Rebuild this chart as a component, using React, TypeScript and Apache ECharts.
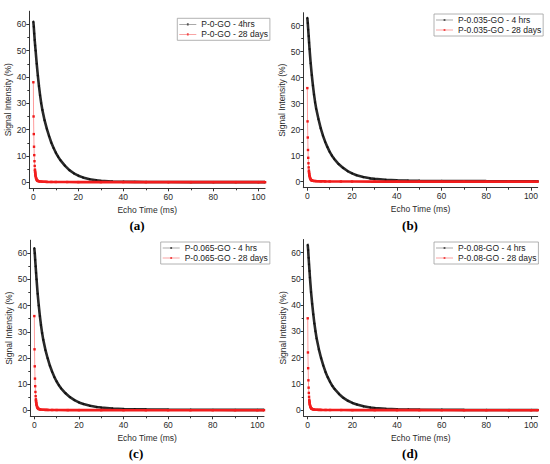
import React, { useEffect, useRef } from "react";
import * as echarts from "echarts";

// Echo times (ms) at which values were read
const T_BLACK = [0, 0.2, 0.4, 0.6, 0.8, 1, 1.5, 2, 2.5, 3, 3.5, 4, 5, 6, 7, 8, 9, 10, 11, 12, 14, 16, 18, 20, 22, 25, 28, 30, 35, 40, 45, 50, 60, 70, 80, 90, 100, 103];
const BLACK_A = [61, 59, 56.5, 54, 52, 50, 45, 40.5, 36.5, 33, 30, 27.5, 23.5, 20.3, 17.5, 15, 13, 11.2, 9.7, 8.4, 6.3, 4.6, 3.4, 2.5, 1.85, 1.15, 0.75, 0.55, 0.3, 0.2, 0.15, 0.1, 0.08, 0.06, 0.05, 0.05, 0.04, 0.04];
const BLACK_B = [63, 61, 58.5, 56, 53.5, 51, 45.5, 41, 37, 33.5, 30.5, 28, 24, 20.5, 17.7, 15.3, 13.3, 11.5, 10, 8.8, 6.8, 5.3, 4.1, 3.2, 2.5, 1.8, 1.3, 1.1, 0.75, 0.55, 0.45, 0.38, 0.3, 0.25, 0.22, 0.2, 0.18, 0.18];
const BLACK_C = [62, 60, 57.5, 55, 52.5, 50, 44.5, 40, 36, 32.5, 29.5, 27, 23, 19.8, 17, 14.7, 12.7, 11, 9.6, 8.4, 6.5, 5, 3.9, 3, 2.4, 1.7, 1.25, 1.05, 0.7, 0.5, 0.4, 0.33, 0.25, 0.2, 0.18, 0.16, 0.15, 0.15];
const BLACK_D = [63, 61, 58, 55.5, 53, 50.5, 45, 40.5, 36.5, 33, 30, 27.3, 23.2, 19.8, 17, 14.5, 12.5, 10.8, 9.3, 8.1, 6.2, 4.7, 3.6, 2.8, 2.2, 1.5, 1.05, 0.85, 0.55, 0.4, 0.3, 0.25, 0.2, 0.15, 0.12, 0.1, 0.1, 0.1];

const T_RED = [0, 0.1, 0.2, 0.3, 0.4, 0.5, 0.6, 0.7, 0.8, 0.9, 1, 1.2, 1.4, 1.6, 1.8, 2, 2.5, 3, 4, 5, 6, 8, 10, 15, 20, 30, 40, 50, 60, 70, 80, 90, 100, 103];
const RED_A = [38, 25, 18.3, 13.5, 10.3, 8, 6.2, 4.8, 3.8, 3, 2.4, 1.6, 1.1, 0.8, 0.6, 0.5, 0.35, 0.28, 0.22, 0.18, 0.15, 0.12, 0.1, 0.08, 0.06, 0.05, 0.05, 0.04, 0.04, 0.04, 0.03, 0.03, 0.03, 0.03];
const RED_B = [36, 23.2, 17, 12.2, 9.2, 7.1, 5.5, 4.3, 3.4, 2.7, 2.2, 1.5, 1.05, 0.8, 0.6, 0.5, 0.35, 0.28, 0.22, 0.18, 0.15, 0.12, 0.1, 0.08, 0.06, 0.05, 0.05, 0.04, 0.04, 0.04, 0.03, 0.03, 0.03, 0.03];
const RED_C = [36, 23.3, 16.8, 12.1, 9.2, 7, 5.4, 4.2, 3.3, 2.6, 2.1, 1.45, 1.0, 0.75, 0.58, 0.48, 0.34, 0.27, 0.21, 0.17, 0.14, 0.11, 0.09, 0.07, 0.06, 0.05, 0.04, 0.04, 0.04, 0.03, 0.03, 0.03, 0.03, 0.03];
const RED_D = [35, 22, 16, 11.4, 8.6, 6.6, 5.1, 4, 3.1, 2.5, 2, 1.35, 0.95, 0.7, 0.55, 0.45, 0.32, 0.25, 0.2, 0.16, 0.14, 0.11, 0.09, 0.07, 0.05, 0.05, 0.04, 0.04, 0.03, 0.03, 0.03, 0.03, 0.03, 0.03];

const NAMES_4H = ["P-0-GO - 4hrs", "P-0.035-GO - 4 hrs", "P-0.065-GO - 4 hrs", "P-0.08-GO - 4 hrs"];
const NAMES_28D = ["P-0-GO - 28 days", "P-0.035-GO - 28 days", "P-0.065-GO - 28 days", "P-0.08-GO - 28 days"];
const PANEL_LABELS = ["(a)", "(b)", "(c)", "(d)"];

const X_MAJOR = [0, 20, 40, 60, 80, 100];
const X_MINOR = [10, 30, 50, 70, 90];
const Y_MAJOR = [0, 10, 20, 30, 40, 50, 60];
const Y_MINOR = [5, 15, 25, 35, 45, 55];

const BLACKS = [BLACK_A, BLACK_B, BLACK_C, BLACK_D];
const REDS = [RED_A, RED_B, RED_C, RED_D];

// layout
const GRIDS = [
  { left: 29.3, top: 11.2, width: 235.8, height: 177.1 },
  { left: 303.3, top: 12.7, width: 234.4, height: 175 },
  { left: 30.3, top: 240.2, width: 233.7, height: 176.1 },
  { left: 303.7, top: 239.5, width: 234, height: 176.8 },
];
const LEGEND_POS = [
  { left: 177.3, top: 18.3 },
  { left: 434, top: 14 },
  { left: 160.7, top: 242 },
  { left: 434, top: 242 },
];
const LABEL_POS = [
  { x: 137, y: 225.5 },
  { x: 410, y: 225.5 },
  { x: 136, y: 453.5 },
  { x: 410, y: 453.5 },
];

// legend icon: thin line with a small marker in the middle
const ICON_LINE_DOT = "path://M0,1.3H17V1.7H0Z M7.6,0.4H9.4V2.6H7.6Z";

const FONT = "'Liberation Sans', Arial, sans-serif";
const TXT = "#2b2b2b";
const AXIS = "#333333";
const XMIN = -1.8, XMAX = 103, YMIN = -2.3, YMAX = 65;
const RED_BAND_START = 7;

export default function App() {
  const ref = useRef<HTMLDivElement>(null);
  useEffect(() => {
    const chart = echarts.init(ref.current!, undefined, { renderer: "svg" });
    const xAxes: any[] = [];
    const yAxes: any[] = [];
    const series: any[] = [];
    const legends: any[] = [];
    const graphics: any[] = [];
    GRIDS.forEach((g, i) => {
      xAxes.push({
        gridIndex: i, type: "value", min: XMIN, max: XMAX, position: "bottom",
        axisLine: { show: true, onZero: false, lineStyle: { color: AXIS, width: 1 } },
        axisTick: { show: true, length: 3, customValues: X_MAJOR, lineStyle: { color: AXIS, width: 1 } },
        axisLabel: { customValues: X_MAJOR, fontSize: 8.5, color: TXT, margin: 4, fontFamily: FONT },
        splitLine: { show: false },
        name: "Echo Time (ms)", nameLocation: "middle", nameGap: 17,
        nameTextStyle: { fontSize: 8.5, color: TXT, fontFamily: FONT },
      });
      xAxes.push({
        gridIndex: i, type: "value", min: XMIN, max: XMAX, position: "bottom",
        axisLine: { show: false, onZero: false },
        axisTick: { show: true, length: 2, customValues: X_MINOR, lineStyle: { color: AXIS, width: 1 } },
        axisLabel: { show: false, customValues: X_MINOR },
        splitLine: { show: false },
      });
      yAxes.push({
        gridIndex: i, type: "value", min: YMIN, max: YMAX, position: "left",
        axisLine: { show: true, onZero: false, lineStyle: { color: AXIS, width: 1 } },
        axisTick: { show: true, length: 3, customValues: Y_MAJOR, lineStyle: { color: AXIS, width: 1 } },
        axisLabel: { customValues: Y_MAJOR, fontSize: 8.5, color: TXT, margin: 3, fontFamily: FONT },
        splitLine: { show: false },
        name: "Signal Intensity (%)", nameLocation: "middle", nameGap: 13,
        nameTextStyle: { fontSize: 8.5, color: TXT, fontFamily: FONT },
      });
      yAxes.push({
        gridIndex: i, type: "value", min: YMIN, max: YMAX, position: "left",
        axisLine: { show: false, onZero: false },
        axisTick: { show: true, length: 2, customValues: Y_MINOR, lineStyle: { color: AXIS, width: 1 } },
        axisLabel: { show: false, customValues: Y_MINOR },
        splitLine: { show: false },
      });
      const black = T_BLACK.map((t, k) => [t, BLACKS[i][k]]);
      const red = T_RED.map((t, k) => [t, REDS[i][k]]);
      const xi = 2 * i, yi = 2 * i;
      series.push({
        type: "line", xAxisIndex: xi, yAxisIndex: yi, data: black, symbol: "none",
        lineStyle: { color: "#2a2a2a", width: 2.6 }, silent: true, z: 2,
      });
      series.push({
        type: "line", name: NAMES_4H[i], xAxisIndex: xi, yAxisIndex: yi, data: black,
        symbol: "circle", symbolSize: 2, itemStyle: { color: "#111111", borderWidth: 0 },
        lineStyle: { color: "#2a2a2a", width: 0.8 }, z: 3,
      });
      series.push({
        type: "line", name: NAMES_28D[i], xAxisIndex: xi, yAxisIndex: yi, data: red,
        symbol: "rect", symbolSize: 2.4, itemStyle: { color: "#f01818", borderWidth: 0 },
        lineStyle: { color: "#ff9c9c", width: 1 }, z: 4,
      });
      series.push({
        type: "line", xAxisIndex: xi, yAxisIndex: yi, data: red.slice(RED_BAND_START), symbol: "none",
        lineStyle: { color: "#f21d1d", width: 2.6 }, silent: true, z: 5,
      });
      legends.push({
        show: true, orient: "vertical", left: LEGEND_POS[i].left, top: LEGEND_POS[i].top,
        data: [
          { name: NAMES_4H[i], icon: ICON_LINE_DOT, itemStyle: { color: "#555555", borderWidth: 0 } },
          { name: NAMES_28D[i], icon: ICON_LINE_DOT, itemStyle: { color: "#f24a4a", borderWidth: 0 } },
        ],
        selectedMode: false, borderColor: "#a0a0a0", borderWidth: 0.8, backgroundColor: "#ffffff",
        padding: [1.5, 2, 1.5, 2], itemWidth: 17, itemHeight: 3, itemGap: 1,
        itemStyle: { borderWidth: 0 },
        textStyle: { fontSize: 8.5, color: "#222222", fontFamily: FONT, lineHeight: 9 },
      });
      graphics.push({
        type: "text", x: LABEL_POS[i].x, y: LABEL_POS[i].y,
        style: {
          text: PANEL_LABELS[i], fontSize: 13, fontWeight: "bold", fontFamily: "'Liberation Serif', 'Times New Roman', serif",
          fill: "#000000", align: "center", verticalAlign: "middle",
        },
      });
    });
    chart.setOption({
      animation: false,
      backgroundColor: "#ffffff",
      grid: GRIDS.map((g) => ({ ...g, containLabel: false, outerBoundsMode: "none" })),
      xAxis: xAxes,
      yAxis: yAxes,
      legend: legends,
      series,
      graphic: graphics,
    });
    return () => chart.dispose();
  }, []);
  return (
    <div
      ref={ref}
      style={{ position: "absolute", left: 0, top: 0, width: 550, height: 464, background: "#fff" }}
    />
  );
}
